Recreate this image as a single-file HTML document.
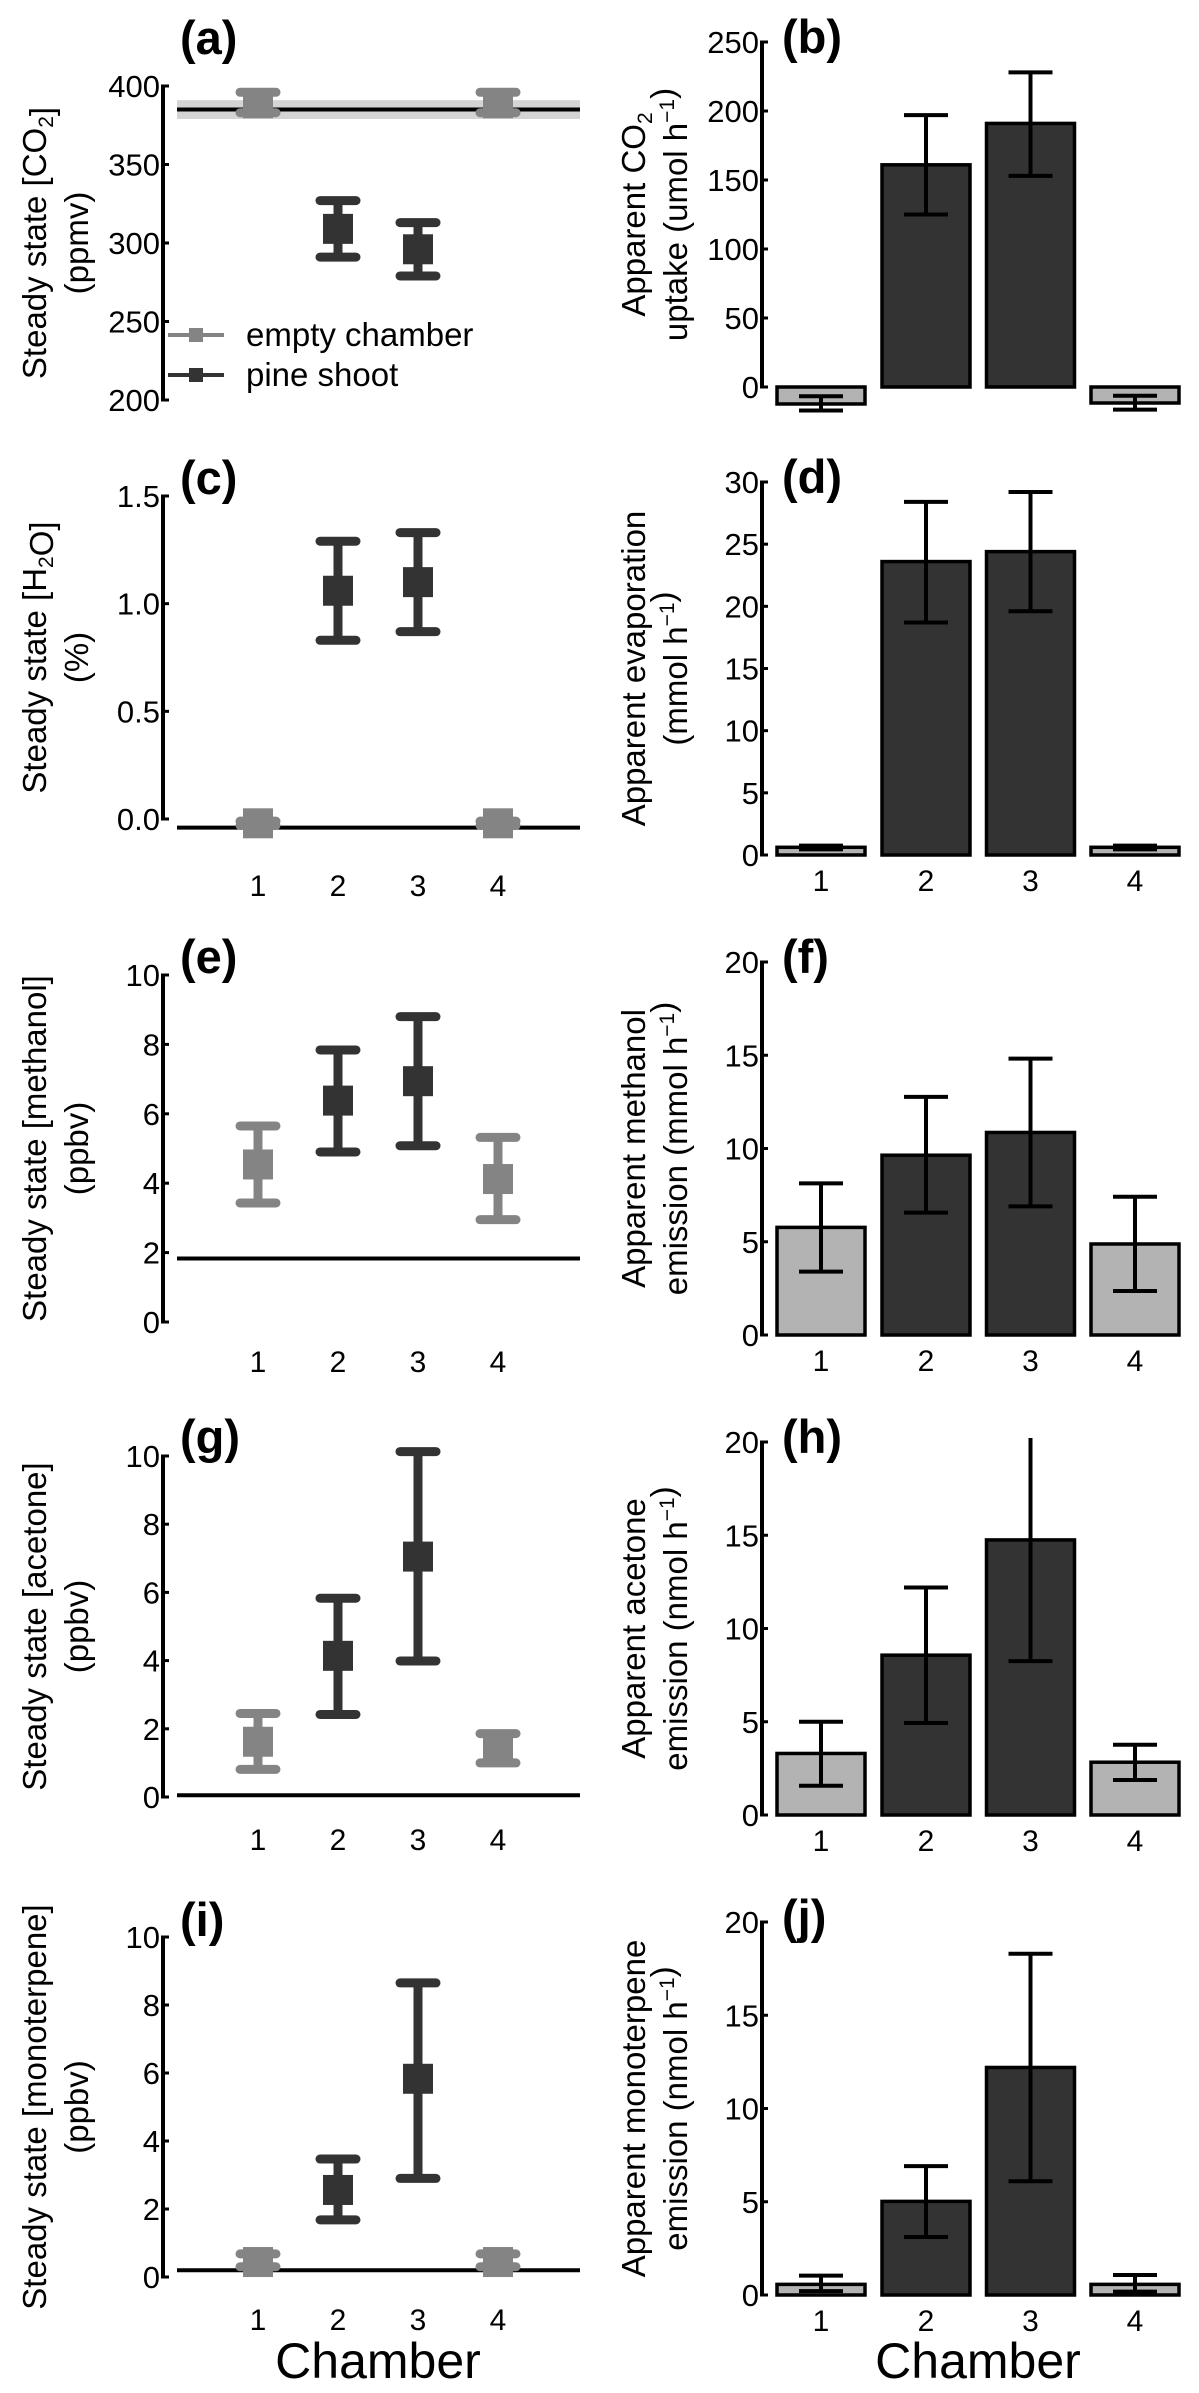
<!DOCTYPE html>
<html><head><meta charset="utf-8"><style>
html,body{margin:0;padding:0;background:#fff;}
svg{display:block;font-family:"Liberation Sans",Arial,sans-serif;}
</style></head><body>
<svg id="fig" width="1199" height="2393" viewBox="0 0 1199 2393" xmlns="http://www.w3.org/2000/svg"></svg>
<script>
const chambers = ["1","2","3","4"];
const chamberType = ["empty","pine","pine","empty"];
// left panels: steady-state concentrations (mean, upper, lower)
const aMean=[389,309,296,389], aHi=[396,327,313,396], aLo=[383,291,279,383];
const cMean=[-0.02,1.06,1.10,-0.02], cHi=[-0.01,1.29,1.33,-0.01], cLo=[-0.03,0.83,0.87,-0.03];
const eMean=[4.54,6.38,6.94,4.12], eHi=[5.65,7.84,8.8,5.32], eLo=[3.43,4.9,5.08,2.95];
const gMean=[1.62,4.14,7.05,1.42], gHi=[2.45,5.83,10.13,1.86], gLo=[0.81,2.42,3.99,1.0];
const iMean=[0.44,2.56,5.83,0.44], iHi=[0.68,3.47,8.65,0.68], iLo=[0.3,1.68,2.9,0.3];
const refLines=[385,-0.04,1.83,0.05,0.2];
const co2Band=[379,391];
// right panels: apparent fluxes (value, upper, lower)
const bVal=[-12.3,161,191,-11.6], bHi=[-6.7,197,228,-6.3], bLo=[-17,125,153,-16.4];
const dVal=[0.62,23.6,24.4,0.62], dHi=[0.75,28.4,29.2,0.75], dLo=[0.45,18.7,19.6,0.45];
const fVal=[5.77,9.64,10.86,4.88], fHi=[8.13,12.77,14.82,7.41], fLo=[3.4,6.56,6.9,2.36];
const hVal=[3.3,8.57,14.75,2.83], hHi=[5.0,12.2,21.5,3.77], hLo=[1.57,4.93,8.25,1.88];
const jVal=[0.57,5.02,12.2,0.57], jHi=[1.04,6.91,18.3,1.07], jLo=[0.21,3.11,6.1,0.18];
const aTicks=[200,250,300,350,400], cTicks=["0.0","0.5","1.0","1.5"], eTicks=[0,2,4,6,8,10];
const bTicks=[0,50,100,150,200,250], dTicks=[0,5,10,15,20,25,30], fTicks=[0,5,10,15,20];

const NS="http://www.w3.org/2000/svg";
const svg=document.getElementById('fig');
function mk(tag,attrs,parent){const e=document.createElementNS(NS,tag);for(const k in attrs)e.setAttribute(k,attrs[k]);(parent||svg).appendChild(e);return e;}
const DARK="#333333", GREY="#848484", LGREY="#b3b3b3";

function yAxis(g,x,y0,y1,ticks,scale,name){
  const ax=mk('line',{x1:x,y1:y0,x2:x,y2:y1,stroke:'#000','stroke-width':4},g);
  
  
  ticks.forEach(t=>{const y=scale(parseFloat(t));
    const tk=mk('line',{x1:x-2,y1:y,x2:x+6,y2:y,stroke:'#000','stroke-width':3},g);
    
    
    const tl=mk('text',{x:x-3,y:y+11,'text-anchor':'end','font-size':31},g);tl.textContent=t;
    
    
  });
}
function yTitle(g,cx,cy,l1,l2,name){
  [l1,l2].forEach((parts,i)=>{
    const bx=cx+i*42;
    const t=mk('text',{x:0,y:0,'text-anchor':'middle','font-size':33,transform:`translate(${bx},${cy}) rotate(-90)`},g);
    
    
    parts.forEach(p=>{const s=mk('tspan',{},t);
      if(p[1]==='sub'){s.setAttribute('font-size',21);s.setAttribute('dy',7);}
      else if(p[1]==='sup'){s.setAttribute('font-size',21);s.setAttribute('dy',-13);}
      s.textContent=p[0];
      if(p[1]){const r=mk('tspan',{dy:p[1]==='sub'?-7:13},t);r.textContent='';}
    });
  });
}
function pLabel(g,x,y,txt,name){const t=mk('text',{x:x,y:y,'font-size':47,'font-weight':'bold'},g);t.textContent=txt;
  
  }
function xTicks(g,xs,y,name){chambers.forEach((c,i)=>{const t=mk('text',{x:xs[i],y:y,'text-anchor':'middle','font-size':30},g);t.textContent=c;
  
  });}

// ---------- left panels ----------
const LX=[258,338,418,498], LAX=163;
function leftPanel(cfg){
  const g=mk('g',{});
  
  
  const sc=v=>cfg.y0+(v-cfg.min)/(cfg.max-cfg.min)*(cfg.y1-cfg.y0);
  if(cfg.band){const b=mk('rect',{x:177,y:sc(cfg.band[1]),width:403,height:sc(cfg.band[0])-sc(cfg.band[1]),fill:'#d4d4d4'},g);
    
    }
  const rl=mk('line',{x1:177,x2:580,y1:sc(cfg.ref),y2:sc(cfg.ref),stroke:'#000','stroke-width':4},g);
  
  
  yAxis(g,LAX,cfg.y0,cfg.y1,cfg.ticks,sc,cfg.name);
  cfg.mean.forEach((m,i)=>{
    const col=chamberType[i]==='pine'?DARK:GREY, x=LX[i];
    const eg=mk('g',{},g);
    
    
    mk('line',{x1:x,x2:x,y1:sc(cfg.hi[i]),y2:sc(cfg.lo[i]),stroke:col,'stroke-width':9},eg);
    [cfg.hi[i],cfg.lo[i]].forEach(v=>mk('line',{x1:x-18,x2:x+18,y1:sc(v),y2:sc(v),stroke:col,'stroke-width':9,'stroke-linecap':'round'},eg));
    mk('rect',{x:x-15,y:sc(m)-15,width:30,height:30,fill:col},eg);
  });
  pLabel(g,180,cfg.lab[1],cfg.lab[0],cfg.name);
  yTitle(g,46,(cfg.y0+cfg.y1)/2,cfg.t1,cfg.t2,cfg.name);
  if(cfg.xt) xTicks(g,LX,cfg.xt,cfg.name);
  return g;
}
leftPanel({name:'panel-a',min:400,max:200,y0:86,y1:400,ticks:aTicks,mean:aMean,hi:aHi,lo:aLo,ref:refLines[0],band:co2Band,lab:['(a)',54],
  t1:[['Steady state [CO'],['2','sub'],[']']],t2:[['(ppmv)']]});
leftPanel({name:'panel-c',min:1.5,max:0,y0:496,y1:819,ticks:cTicks,mean:cMean,hi:cHi,lo:cLo,ref:refLines[1],lab:['(c)',494],xt:896,
  t1:[['Steady state [H'],['2','sub'],['O]']],t2:[['(%)']]});
leftPanel({name:'panel-e',min:10,max:0,y0:975,y1:1322,ticks:eTicks,mean:eMean,hi:eHi,lo:eLo,ref:refLines[2],lab:['(e)',973],xt:1372,
  t1:[['Steady state [methanol]']],t2:[['(ppbv)']]});
leftPanel({name:'panel-g',min:10,max:0,y0:1456,y1:1797,ticks:eTicks,mean:gMean,hi:gHi,lo:gLo,ref:refLines[3],lab:['(g)',1453],xt:1850,
  t1:[['Steady state [acetone]']],t2:[['(ppbv)']]});
leftPanel({name:'panel-i',min:10,max:0,y0:1937,y1:2277,ticks:eTicks,mean:iMean,hi:iHi,lo:iLo,ref:refLines[4],lab:['(i)',1936],xt:2330,
  t1:[['Steady state [monoterpene]']],t2:[['(ppbv)']]});

// legend
const lg=mk('g',{});


[['empty chamber',GREY,335],['pine shoot',DARK,375]].forEach(([lbl,col,y])=>{
  const e=mk('g',{},lg);
  
  
  mk('line',{x1:168,x2:224,y1:y,y2:y,stroke:col,'stroke-width':4},e);
  mk('rect',{x:189,y:y-7,width:14,height:14,fill:col},e);
  const t=mk('text',{x:246,y:y+11,'font-size':33},e);t.textContent=lbl;
});

// ---------- right panels ----------
const RX=[821,926,1030.5,1135], RAX=762, BW=88;
function rightPanel(cfg){
  const g=mk('g',{});
  
  
  const sc=v=>cfg.y0+(v-cfg.min)/(cfg.max-cfg.min)*(cfg.y1-cfg.y0);
  yAxis(g,RAX,cfg.y0,cfg.y1,cfg.ticks,sc,cfg.name);
  const clipTop=cfg.y0-4;
  cfg.val.forEach((v,i)=>{
    const col=chamberType[i]==='pine'?DARK:LGREY, x=RX[i];
    const top=Math.min(sc(v),sc(0)), h=Math.abs(sc(v)-sc(0));
    const bar=mk('rect',{x:x-BW/2,y:top,width:BW,height:h,fill:col,stroke:'#000','stroke-width':3.5},g);
    
    
    const eg=mk('g',{},g);
    
    
    const yh=Math.max(sc(cfg.hi[i]),clipTop), yl=sc(cfg.lo[i]);
    mk('line',{x1:x,x2:x,y1:yh,y2:yl,stroke:'#000','stroke-width':4},eg);
    if(sc(cfg.hi[i])>=clipTop) mk('line',{x1:x-22,x2:x+22,y1:yh,y2:yh,stroke:'#000','stroke-width':4},eg);
    mk('line',{x1:x-22,x2:x+22,y1:yl,y2:yl,stroke:'#000','stroke-width':4},eg);
  });
  pLabel(g,782,cfg.lab,cfg.labT,cfg.name);
  yTitle(g,645,(cfg.y0+cfg.y1)/2,cfg.t1,cfg.t2,cfg.name);
  if(cfg.xt) xTicks(g,RX,cfg.xt,cfg.name);
}
rightPanel({name:'panel-b',min:250,max:0,y0:42,y1:387,ticks:bTicks,val:bVal,hi:bHi,lo:bLo,labT:'(b)',lab:53,
  t1:[['Apparent CO'],['2','sub']],t2:[['uptake (umol h'],['−1','sup'],[')']]});
rightPanel({name:'panel-d',min:30,max:0,y0:482,y1:855,ticks:dTicks,val:dVal,hi:dHi,lo:dLo,labT:'(d)',lab:493,xt:891,
  t1:[['Apparent evaporation']],t2:[['(mmol h'],['−1','sup'],[')']]});
rightPanel({name:'panel-f',min:20,max:0,y0:962,y1:1335,ticks:fTicks,val:fVal,hi:fHi,lo:fLo,labT:'(f)',lab:973,xt:1371,
  t1:[['Apparent methanol']],t2:[['emission (mmol h'],['−1','sup'],[')']]});
rightPanel({name:'panel-h',min:20,max:0,y0:1442,y1:1815,ticks:fTicks,val:hVal,hi:hHi,lo:hLo,labT:'(h)',lab:1453,xt:1851,
  t1:[['Apparent acetone']],t2:[['emission (nmol h'],['−1','sup'],[')']]});
rightPanel({name:'panel-j',min:20,max:0,y0:1922,y1:2295,ticks:fTicks,val:jVal,hi:jHi,lo:jLo,labT:'(j)',lab:1933,xt:2331,
  t1:[['Apparent monoterpene']],t2:[['emission (nmol h'],['−1','sup'],[')']]});

// x-axis titles
[[378,'left'],[978,'right']].forEach(([x,s])=>{
  const t=mk('text',{x:x,y:2378,'text-anchor':'middle','font-size':50});t.textContent='Chamber';
  
  
});
</script>
</body></html>
